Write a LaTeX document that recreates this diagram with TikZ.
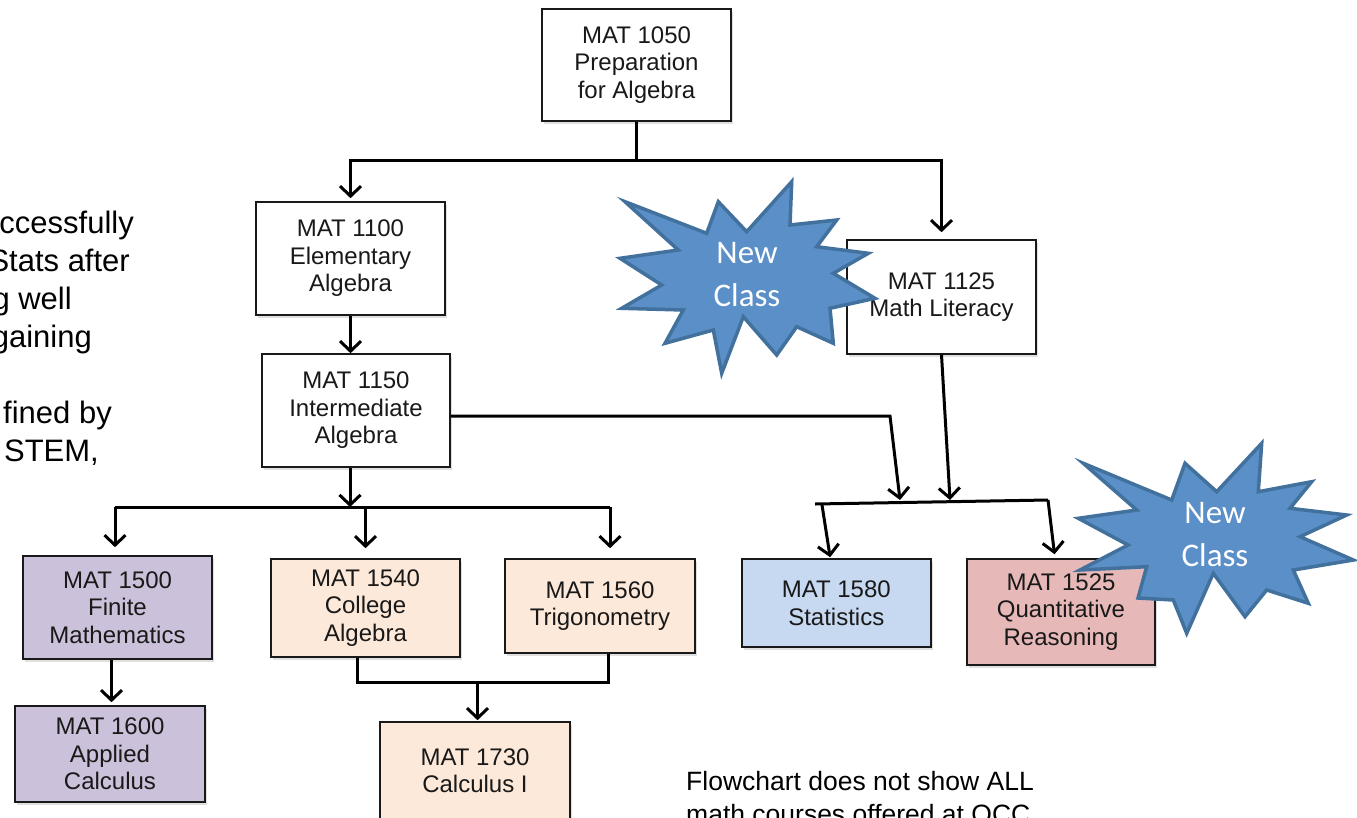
\documentclass[tikz,border=0pt]{standalone}
\usepackage{fontspec}
\setmainfont{Liberation Sans}
\newfontfamily\calib{Carlito}
\usetikzlibrary{arrows.meta,shadows}
\definecolor{cpurple}{HTML}{CCC1DA}
\definecolor{cpeach}{HTML}{FDE9D9}
\definecolor{cblue}{HTML}{C6D9F1}
\definecolor{cpink}{HTML}{E6B9B8}
\definecolor{burstfill}{HTML}{5B8FC8}
\definecolor{burstline}{HTML}{41719C}
\begin{document}
\begin{tikzpicture}[x=1pt,y=-1pt,
  box/.style={draw=black!90,line width=1.6pt,fill=#1,inner sep=2pt,align=center,
    font=\fontsize{24}{27.5}\selectfont,text=black!90,
    drop shadow={shadow xshift=2pt,shadow yshift=-3pt,opacity=.25}},
  box/.default=white,
  con/.style={line width=3pt,draw=black},
  arr/.style={con,-{Straight Barb[length=10pt,width=21pt]}},
  burst/.style={fill=burstfill,draw=burstline,line width=3.5pt,line join=miter},
  bursttext/.style={text=white,font=\calib\fontsize{33}{43}\selectfont,align=center},
  note/.style={font=\fontsize{31}{38}\selectfont,anchor=base east,inner sep=0pt},
  foot/.style={font=\fontsize{26.5}{32}\selectfont,anchor=base west,inner sep=0pt}
]
\useasboundingbox (0,0) rectangle (1357,817);

% left text (cut by the left edge, as in the reference)
\node[note] (l1) at (134,233) {ccessfully};
\node[note] (l2) at (130,271) {Stats after};
\node[note] (l3) at (72,309) {g well};
\node[note] (l4) at (92,347) {gaining};
\node[note] (l5) at (112,423) {fined by};
\node[note] (l6) at (99,461) {STEM,};

% footer
\node[foot] (f1) at (686,790) {Flowchart does not show ALL};
\node[foot] (f2) at (686,823) {math courses offered at OCC};

% course boxes
\node[box,minimum width=189pt,minimum height=112pt] (n1050) at (636.5,65) {MAT 1050\\Preparation\\for Algebra};
\node[box,minimum width=189pt,minimum height=113pt] (n1100) at (350.5,258.5) {MAT 1100\\Elementary\\Algebra};
\node[box,minimum width=188pt,minimum height=113pt] (n1150) at (356,410.5) {MAT 1150\\Intermediate\\Algebra};
\node[box,minimum width=189pt,minimum height=114pt] (n1125) at (941.5,297) {MAT 1125\\Math Literacy};
\node[box=cpurple,minimum width=189pt,minimum height=103pt] (n1500) at (117.5,607.5) {MAT 1500\\Finite\\Mathematics};
\node[box=cpeach,minimum width=189pt,minimum height=98pt] (n1540) at (365.5,608) {MAT 1540\\College\\Algebra};
\node[box=cpeach,minimum width=190pt,minimum height=94pt] (n1560) at (600,606) {MAT 1560\\Trigonometry};
\node[box=cpurple,minimum width=190pt,minimum height=96pt] (n1600) at (110,754) {MAT 1600\\Applied\\Calculus};
\node[box=cpeach,minimum width=190pt,minimum height=97pt] (n1730) at (475,770.5) {MAT 1730\\Calculus I};
\node[box=cblue,minimum width=189pt,minimum height=88pt] (n1580) at (836.3,603) {MAT 1580\\Statistics};
\node[box=cpink,minimum width=188pt,minimum height=106pt] (n1525) at (1061,612) {MAT 1525\\Quantitative\\Reasoning};

% connectors: top
\coordinate (t1) at (636.5,160);
\draw[con] (n1050) -- (t1);
\draw[arr,shorten >=3pt] (t1) -| (n1100);
\draw[arr,shorten >=7pt] (t1) -| (n1125);
\draw[arr] (n1100.south) -- (n1100.south |- n1150.north);

% connectors: from 1150 down
\coordinate (b1) at (350,507);
\coordinate (b1L) at (115,507);
\coordinate (b1R) at (610,507);
\draw[arr] (n1150.south -| b1) -- (b1);
\draw[con] (b1L) -- (b1R);
\draw[arr,shorten >=8pt] (b1L) -- (b1L |- n1500.north);
\draw[arr,shorten >=10pt] (b1 -| n1540) -- (n1540);
\draw[arr,shorten >=10pt] (b1R) -- (b1R |- n1560.north);

% connectors: right cluster
\coordinate (r1) at (890,416);
\coordinate (r1t) at (900,500);
\coordinate (r2t) at (950,500);
\draw[arr] (n1150.east |- r1) -- (r1) -- (r1t);
\draw[arr] (n1125.south) -- (r2t);
\coordinate (s1) at (815,504);
\coordinate (s2) at (1048,500);
\coordinate (s3) at (822,505);
\draw[con] (s1) -- (s2);
\draw[arr,shorten >=1pt] (s3) -- ([xshift=-6pt]n1580.north);
\draw[arr,shorten >=4pt] (s2) -- ([xshift=-6pt]n1525.north);

% connectors: bottom
\coordinate (c1) at (357,682);
\coordinate (c2) at (608,682);
\coordinate (c3) at (477.5,682);
\draw[con] (n1540.south -| c1) -- (c1) -- (c2) -- (n1560.south -| c2);
\draw[arr,shorten >=1pt] (c3) -- (c3 |- n1730.north);
\draw[arr,shorten >=3pt] ([xshift=-6pt]n1500.south) -- ([xshift=-6pt]n1500.south |- n1600.north);

% bursts
\draw[burst] (625,201.7) -- (706.7,233.3) -- (718.3,201.7) -- (746.7,231.7) -- (791.7,181.7) -- (790,225)
  -- (836.7,220) -- (816.7,246.7) -- (868.3,253.3) -- (833.3,273.3) -- (875,298.3) -- (830,308.3)
  -- (833.3,343.3) -- (796.7,326.7) -- (776.7,355) -- (743.3,316.7) -- (721.7,373.3) -- (713.3,330)
  -- (665,343.3) -- (683.3,310) -- (621.7,308.3) -- (661.7,285) -- (620,258.3) -- (678.3,250) -- cycle;
\node[bursttext] (nc1) at (747,275) {New\\Class};

\draw[burst] (1083.3,463.3) -- (1171.7,500) -- (1185,463.3) -- (1216.7,491.7) -- (1261.7,443.3) -- (1258.3,491.7)
  -- (1311.7,481.7) -- (1290,508.3) -- (1346.7,515) -- (1300,536.7) -- (1353.3,560) -- (1293.3,570)
  -- (1308.3,603.3) -- (1266.7,590) -- (1245,616.7) -- (1213.3,573.3) -- (1186.7,633.3) -- (1173.3,600)
  -- (1138,598) -- (1146.7,566.7) -- (1080,570) -- (1128,545) -- (1078.3,518.3) -- (1136.7,510) -- cycle;
\node[bursttext] (nc2) at (1215,535) {New\\Class};
\end{tikzpicture}
\end{document}
